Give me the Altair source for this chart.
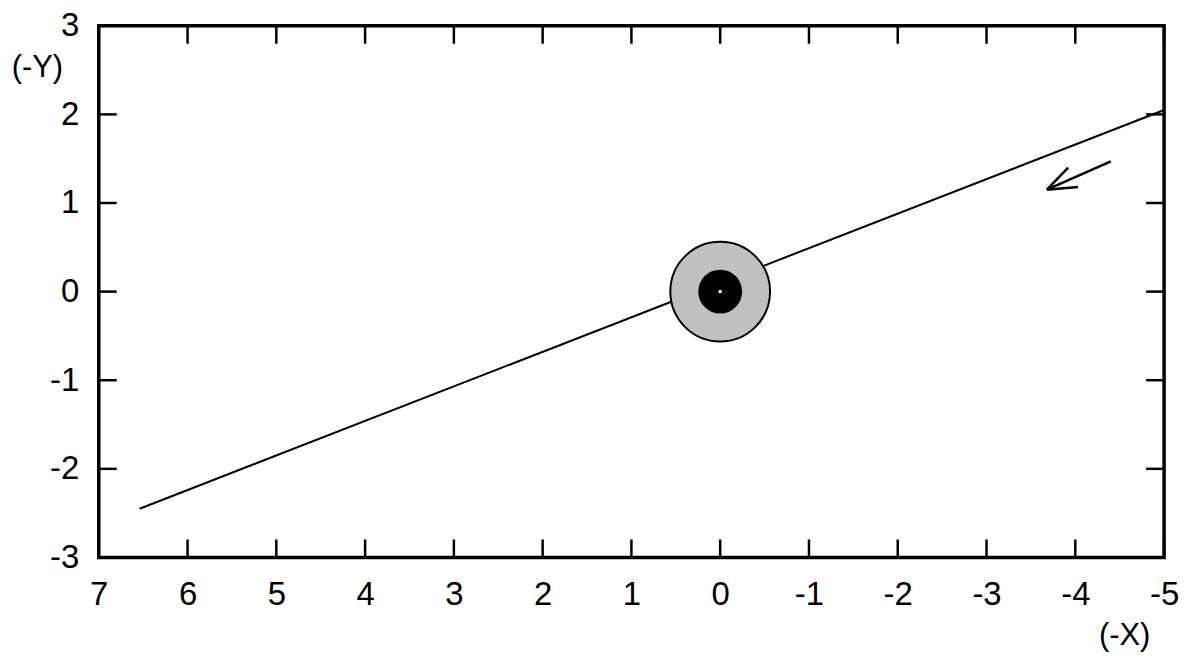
import altair as alt
import pandas as pd

# Axis ticks
x_ticks = [7, 6, 5, 4, 3, 2, 1, 0, -1, -2, -3, -4, -5]
y_ticks = [-3, -2, -1, 0, 1, 2, 3]

# Trajectory line
traj_x = [6.54, -5.0]
traj_y = [-2.45, 2.05]

# Arrow (shaft + two barbs) : start / end points
arrow_x1 = [-4.40, -3.68, -3.68]
arrow_y1 = [1.47, 1.15, 1.15]
arrow_x2 = [-3.68, -3.92, -4.03]
arrow_y2 = [1.15, 1.40, 1.18]

# Central body
body_x = [0.0]
body_y = [0.0]

W, H = 1068, 533
FONT = "Liberation Sans"
FS = 33
TFS = 31

xs = alt.Scale(domain=[-5, 7], reverse=True, nice=False, zero=False)
ys = alt.Scale(domain=[-3, 3], nice=False, zero=False)

traj = pd.DataFrame({"x": traj_x, "y": traj_y})
arrow = pd.DataFrame({"x": arrow_x1, "y": arrow_y1, "x2": arrow_x2, "y2": arrow_y2})
body = pd.DataFrame({"x": body_x, "y": body_y})
xt = pd.DataFrame({"t": x_ticks})
yt = pd.DataFrame({"t": y_ticks})

x_axis = alt.Axis(values=x_ticks, ticks=False, tickSize=0, domain=False, grid=False,
                  labelExpr="'' + datum.value",
                  labelFont=FONT, labelFontSize=FS, labelColor="black", labelPadding=21,
                  title="(-X)", titleFont=FONT, titleFontSize=TFS, titleFontWeight="normal",
                  titleColor="black", titleX=1028, titleY=78, titleAlign="center",
                  titleBaseline="middle", labelFlush=False, labelOverlap=False)
y_axis = alt.Axis(values=y_ticks, ticks=False, tickSize=0, domain=False, grid=False,
                  labelExpr="'' + datum.value",
                  labelFont=FONT, labelFontSize=FS, labelColor="black", labelPadding=20,
                  title="(-Y)", titleFont=FONT, titleFontSize=TFS, titleFontWeight="normal",
                  titleColor="black", titleAngle=0, titleX=-62, titleY=42,
                  titleAlign="center", titleBaseline="middle", labelFlush=False,
                  labelOverlap=False)

line = alt.Chart(traj).mark_line(color="black", strokeWidth=2).encode(
    x=alt.X("x:Q", scale=xs, axis=x_axis),
    y=alt.Y("y:Q", scale=ys, axis=y_axis),
)

arr = alt.Chart(arrow).mark_rule(color="black", strokeWidth=2.5).encode(
    x=alt.X("x:Q", scale=xs), y=alt.Y("y:Q", scale=ys),
    x2="x2:Q", y2="y2:Q",
)

outer = alt.Chart(body).mark_point(shape="circle", filled=True, fill="#c0c0c0",
                                   stroke="black", strokeWidth=2, opacity=1,
                                   size=10000).encode(
    x=alt.X("x:Q", scale=xs), y=alt.Y("y:Q", scale=ys))
inner = alt.Chart(body).mark_point(shape="circle", filled=True, fill="black",
                                   opacity=1, size=1936).encode(
    x=alt.X("x:Q", scale=xs), y=alt.Y("y:Q", scale=ys))
dot = alt.Chart(body).mark_point(shape="square", filled=True, fill="white",
                                 opacity=1, size=9).encode(
    x=alt.X("x:Q", scale=xs), y=alt.Y("y:Q", scale=ys))

TL = 18
tb = alt.Chart(xt).mark_rule(color="black", strokeWidth=2.5).encode(
    x=alt.X("t:Q", scale=xs), y=alt.value(H), y2=alt.value(H - TL))
tt = alt.Chart(xt).mark_rule(color="black", strokeWidth=2.5).encode(
    x=alt.X("t:Q", scale=xs), y=alt.value(0), y2=alt.value(TL))
tl = alt.Chart(yt).mark_rule(color="black", strokeWidth=2.5).encode(
    y=alt.Y("t:Q", scale=ys), x=alt.value(0), x2=alt.value(TL))
tr = alt.Chart(yt).mark_rule(color="black", strokeWidth=2.5).encode(
    y=alt.Y("t:Q", scale=ys), x=alt.value(W), x2=alt.value(W - TL))

chart = alt.layer(line, outer, inner, dot, arr, tb, tt, tl, tr).properties(
    width=W, height=H,
    autosize=alt.AutoSizeParams(type="none"),
    padding={"left": 91, "top": 17, "right": 28, "bottom": 100},
    background="white",
).configure_view(stroke="black", strokeWidth=3.5)

chart.save("out.html", embed_options={"renderer": "svg", "actions": False})
